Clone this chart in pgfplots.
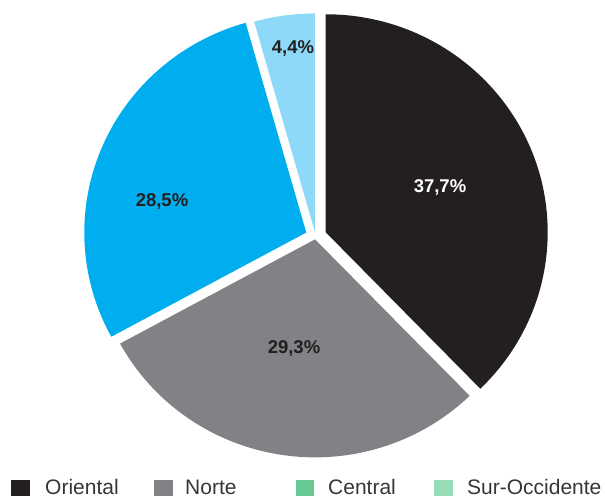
\documentclass[border=0pt]{standalone}
\usepackage{pgfplots}
\pgfplotsset{compat=1.18}
\usepackage{fontspec}
\setmainfont{Liberation Sans}
\definecolor{cOri}{HTML}{231F20}
\definecolor{cNor}{HTML}{808285}
\definecolor{cCen}{HTML}{00AEEF}
\definecolor{cSur}{HTML}{8ED8F8}
\definecolor{lCen}{HTML}{66C994}
\definecolor{lSur}{HTML}{97DDB7}
% data (percent)
\def\vA{37.7}% Oriental
\def\vB{29.3}% Norte
\def\vC{28.5}% Central
\def\vD{4.4}%  Sur-Occidente
\pgfmathsetmacro{\tot}{\vA+\vB+\vC+\vD}
\pgfmathsetmacro{\aA}{90}
\pgfmathsetmacro{\aB}{\aA-360*\vA/\tot}
\pgfmathsetmacro{\aC}{\aB-360*\vB/\tot}
\pgfmathsetmacro{\aD}{\aC-360*\vC/\tot}
\pgfmathsetmacro{\aE}{\aD-360*\vD/\tot}
% explode offsets
\pgfmathsetmacro{\oAx}{11*cos((\aA+\aB)/2)}\pgfmathsetmacro{\oAy}{11*sin((\aA+\aB)/2)}
\pgfmathsetmacro{\oBx}{3*cos((\aB+\aC)/2)}\pgfmathsetmacro{\oBy}{3*sin((\aB+\aC)/2)}
\pgfmathsetmacro{\oCx}{10*cos((\aC+\aD)/2)}\pgfmathsetmacro{\oCy}{10*sin((\aC+\aD)/2)}
\pgfmathsetmacro{\oDx}{5*cos((\aD+\aE)/2)}\pgfmathsetmacro{\oDy}{5*sin((\aD+\aE)/2)}
\newcommand{\slice}[5]{% color, start, end, ox, oy
  \fill[#1] (axis cs:#4,#5) -- ++({222*cos(#2)*1pt},{218*sin(#2)*1pt})
    arc[start angle=#2, end angle=#3, x radius=222pt, y radius=218pt] -- cycle;}
\begin{document}
\begin{tikzpicture}
\begin{axis}[x=1pt, y=1pt, xmin=-315.5, xmax=289.5, ymin=-261.6, ymax=236.4,
  hide axis, clip=false]
\path (axis cs:-315.5,-261.6) rectangle (axis cs:289.5,236.4);
\slice{cOri}{\aA}{\aB}{\oAx}{\oAy}
\slice{cNor}{\aB}{\aC}{\oBx}{\oBy}
\slice{cCen}{\aC}{\aD}{\oCx}{\oCy}
\slice{cSur}{\aD}{\aE}{\oDx}{\oDy}
\node[font=\fontsize{18.5}{20}\selectfont\bfseries, text=white] at (axis cs:124.5,49.4) {37,7\%};
\node[font=\fontsize{18.5}{20}\selectfont\bfseries, text=cOri] at (axis cs:-21.5,-111.6) {29,3\%};
\node[font=\fontsize{18.5}{20}\selectfont\bfseries, text=cOri] at (axis cs:-153.5,35.4) {28,5\%};
\node[font=\fontsize{18.5}{20}\selectfont\bfseries, text=cOri] at (axis cs:-22.5,187.4) {4,4\%};
% legend
\fill[cOri] (axis cs:-304.5,-243.6) rectangle (axis cs:-285.5,-259.6);
\fill[cNor] (axis cs:-161.5,-243.6) rectangle (axis cs:-142.5,-259.6);
\fill[lCen] (axis cs:-19.5,-243.6) rectangle (axis cs:-1.5,-259.6);
\fill[lSur] (axis cs:118.5,-243.6) rectangle (axis cs:137.5,-259.6);
\node[anchor=base west, inner sep=0pt, font=\fontsize{21}{24}\selectfont, text=cOri!90!white] at (axis cs:-270.5,-258.3) {Oriental};
\node[anchor=base west, inner sep=0pt, font=\fontsize{21}{24}\selectfont, text=cOri!90!white] at (axis cs:-130.5,-258.3) {Norte};
\node[anchor=base west, inner sep=0pt, font=\fontsize{21}{24}\selectfont, text=cOri!90!white] at (axis cs:12.5,-258.3) {Central};
\node[anchor=base west, inner sep=0pt, font=\fontsize{21}{24}\selectfont, text=cOri!90!white] at (axis cs:151.5,-258.3) {Sur-Occidente};
\end{axis}
\end{tikzpicture}
\end{document}
